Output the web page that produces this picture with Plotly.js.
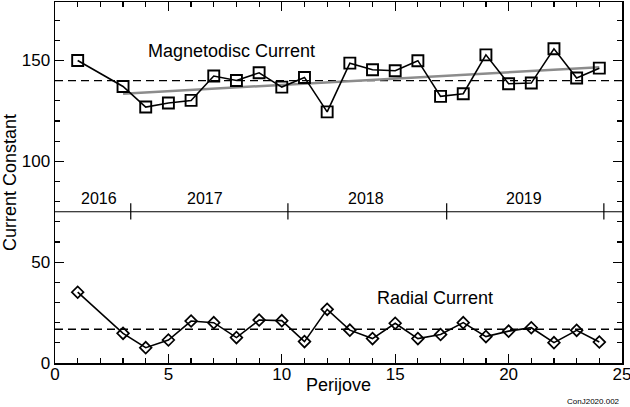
<!DOCTYPE html>
<html>
<head>
<meta charset="utf-8">
<script src="https://cdn.plot.ly/plotly-3.0.1.min.js"></script>
<style>html,body{margin:0;padding:0;background:#fff;}#chart{width:630px;height:407px;}</style>
</head>
<body>
<div id="chart"></div>
<script>
const perijoves = [1,3,4,5,6,7,8,9,10,11,12,13,14,15,16,17,18,19,20,21,22,23,24];
const magnetodisc = [150,137.1,126.9,128.9,130.2,142.3,140.1,143.9,136.8,141.6,124.5,148.7,145.4,144.9,149.9,132.2,133.5,152.8,138.5,138.8,155.8,141.3,146.2];
const radial = [35.1,14.7,7.6,11.4,20.8,20.0,12.6,21.3,21.0,10.6,26.6,16.3,12.1,19.7,12.1,14.1,20.0,13.1,15.8,17.5,10.1,16.2,10.4];
const magnetodiscMean = 140;
const radialMean = 16.7;
const trendX = [3, 24];
const trendY = [133.5, 146.7];
const yearBoundaries = [3.34, 10.27, 17.27, 24.2];
const yearLabels = ['2016','2017','2018','2019'];
const yearCenters = [1.96, 6.6, 13.7, 20.67];
const yearLineValue = 75;

const font = 'Liberation Sans, Arial, sans-serif';

const traces = [
  {x:[0,25], y:[magnetodiscMean,magnetodiscMean], mode:'lines', line:{color:'#000',width:1.4,dash:'8px,5px'}, hoverinfo:'skip'},
  {x:[0,25], y:[radialMean,radialMean], mode:'lines', line:{color:'#000',width:1.4,dash:'8px,5px'}, hoverinfo:'skip'},
  {x:trendX, y:trendY, mode:'lines', line:{color:'#8c8c8c',width:2.5}},
  {x:perijoves, y:magnetodisc, mode:'lines+markers', line:{color:'#000',width:1.6},
   marker:{symbol:'square-open',size:11,color:'#000',line:{width:1.9,color:'#000'}}},
  {x:perijoves, y:radial, mode:'lines+markers', line:{color:'#000',width:1.6},
   marker:{symbol:'diamond-open',size:9,color:'#000',line:{width:1.7,color:'#000'}}}
];

const shapes = [
  {type:'line', xref:'paper', yref:'y', x0:0, x1:1, y0:yearLineValue, y1:yearLineValue, line:{color:'#000',width:1.2}}
];
yearBoundaries.forEach(b => shapes.push({type:'line', xref:'x', yref:'y', x0:b, x1:b, y0:yearLineValue-3.8, y1:yearLineValue+4.2, line:{color:'#000',width:1.2}}));

const annotations = yearLabels.map((t,i)=>({x:yearCenters[i], y:81.5, xref:'x', yref:'y', text:t, showarrow:false, font:{family:font,size:16,color:'#000'}}));
annotations.push({x:7.8, y:154.5, xref:'x', yref:'y', text:'Magnetodisc Current', showarrow:false, font:{family:font,size:18,color:'#000'}});
annotations.push({x:16.74, y:32.4, xref:'x', yref:'y', text:'Radial Current', showarrow:false, font:{family:font,size:18,color:'#000'}});
annotations.push({x:0.5, y:0, xref:'paper', yref:'paper', xanchor:'center', yanchor:'middle', yshift:-22, text:'Perijove', showarrow:false, font:{family:font,size:18,color:'#000'}});
annotations.push({x:1, y:0, xref:'paper', yref:'paper', xanchor:'right', yanchor:'middle', yshift:-38, xshift:0, text:'ConJ2020.002', showarrow:false, font:{family:font,size:8,color:'#000'}});

const axisCommon = {showgrid:false, zeroline:false, showline:true, linecolor:'#000', linewidth:1.5, mirror:'allticks',
  ticks:'inside', tickcolor:'#000', tickwidth:1.2, ticklen:9, tickfont:{family:font,size:17,color:'#000'}, ticklabeloverflow:'allow'};

const layout = {
  width:630, height:407,
  margin:{l:55, r:8, t:2, b:44},
  paper_bgcolor:'#fff', plot_bgcolor:'#fff',
  showlegend:false,
  xaxis:Object.assign({}, axisCommon, {range:[0,25], tickvals:[0,5,10,15,20,25], ticktext:['0','5','10','15','20','25'],
    ticklabelstandoff:-5,
    minor:{dtick:1, tick0:0, ticks:'inside', ticklen:5, tickcolor:'#000', tickwidth:1.2}}),
  yaxis:Object.assign({}, axisCommon, {range:[0,179], tickvals:[0,50,100,150], ticktext:['0','50','100','150'],
    minor:{dtick:10, tick0:0, ticks:'inside', ticklen:5, tickcolor:'#000', tickwidth:1.2},
    title:{text:'Current Constant', font:{family:font,size:18,color:'#000'}, standoff:8}}),
  shapes:shapes,
  annotations:annotations
};

Plotly.newPlot('chart', traces, layout, {displayModeBar:false, staticPlot:true});
</script>
</body>
</html>
